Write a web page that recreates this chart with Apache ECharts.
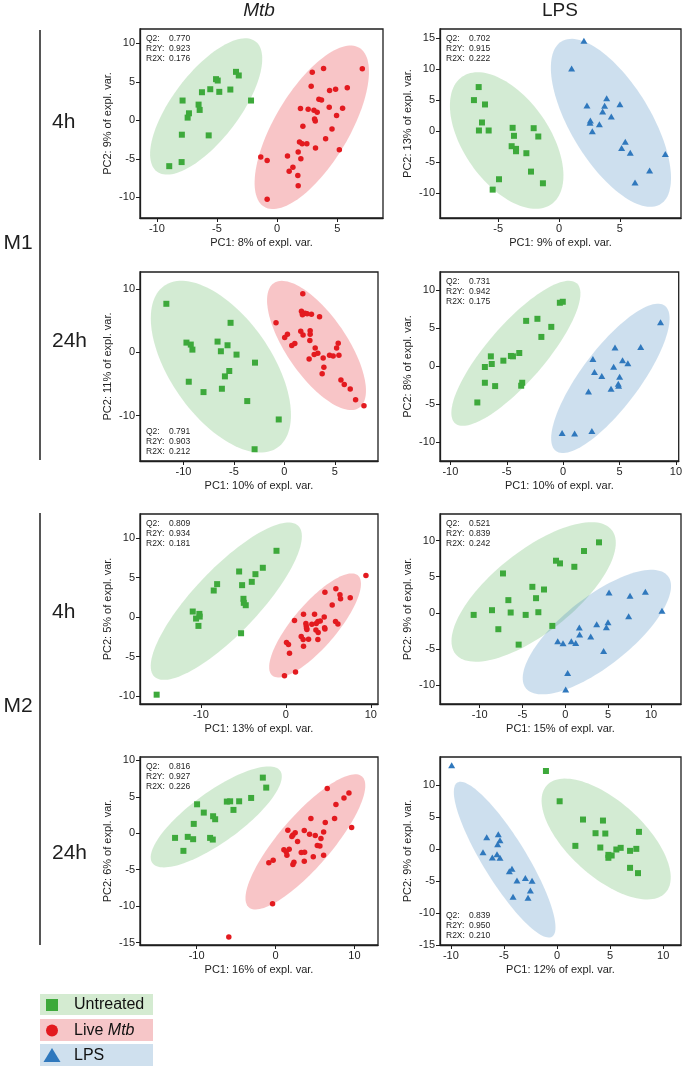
<!DOCTYPE html>
<html><head><meta charset="utf-8">
<script src="https://cdn.jsdelivr.net/npm/echarts@6/dist/echarts.min.js"></script>
<style>html,body{margin:0;padding:0;background:#fff}#c{width:685px;height:1067px}</style>
</head><body><div id="c"></div>
<script>
// ---------------- DATA ----------------
// Column / row headers
const columnTitles = ['Mtb', 'LPS'];
const rowTitles = ['4h', '24h', '4h', '24h'];
const blockTitles = ['M1', 'M2'];
const legendLabels = ['Untreated', 'Live Mtb', 'LPS'];

// M1 4h Mtb
const m1_4h_mtb_untreated = [[-8.97,-5.96],[-7.94,-5.43],[-7.92,-1.87],[-7.86,2.57],[-7.44,0.35],[-7.33,0.91],[-6.53,2.04],[-6.44,1.35],[-6.25,3.65],[-5.69,-1.96],[-5.56,4.04],[-5.08,5.35],[-4.94,5.17],[-4.81,3.70],[-3.89,4.00],[-3.42,6.30],[-3.19,5.83],[-2.17,2.57]];
const m1_4h_mtb_live = [[-1.36,-4.78],[-0.83,-5.22],[-0.83,-10.26],[0.86,-4.65],[1.00,-6.61],[1.31,-6.09],[1.75,-4.13],[1.72,-7.17],[1.75,-8.52],[1.86,-2.83],[1.97,-5.00],[2.08,-3.04],[1.94,1.52],[2.14,-0.78],[2.47,-3.04],[2.58,1.43],[2.83,4.43],[2.92,6.26],[3.06,1.30],[3.11,0.17],[3.17,-0.09],[3.19,-3.61],[3.33,1.04],[3.47,2.74],[3.69,2.65],[3.86,6.74],[4.03,-2.39],[4.33,1.70],[4.36,3.87],[4.56,-1.13],[4.86,4.04],[4.94,0.61],[5.17,-3.83],[5.44,1.57],[5.83,4.22],[7.08,6.70]];
const m1_4h_mtb_ellipse_untreated = [-5.90,1.80,4.10,8.46,0.41];
const m1_4h_mtb_ellipse_live = [2.88,-0.91,3.95,10.34,0.40];
const m1_4h_mtb_stats = ['0.770','0.923','0.176'];
const m1_4h_mtb_xticks = [-10,-5,0,5];
const m1_4h_mtb_yticks = [-10,-5,0,5,10];

// M1 4h LPS
const m1_4h_lps_untreated = [[-6.60,7.10],[-6.99,5.00],[-6.08,4.30],[-6.33,1.40],[-6.58,0.11],[-5.78,0.11],[-3.81,0.54],[-3.70,-0.75],[-2.08,0.48],[-1.70,-0.86],[-3.89,-2.42],[-3.53,-2.85],[-3.53,-3.23],[-2.68,-3.55],[-2.30,-6.51],[-1.32,-8.39],[-4.93,-7.74],[-5.45,-9.41]];
const m1_4h_lps_lps = [[2.05,14.57],[1.04,10.11],[3.92,5.32],[2.30,4.14],[3.75,4.09],[5.01,4.35],[3.59,3.17],[4.30,2.37],[2.58,1.72],[2.55,1.34],[3.32,1.13],[2.74,0.00],[5.45,-1.72],[5.15,-2.69],[5.86,-3.49],[8.74,-3.66],[7.45,-6.34],[6.25,-8.28]];
const m1_4h_lps_ellipse_untreated = [-4.30,-1.51,3.67,-10.26,0.55];
const m1_4h_lps_ellipse_lps = [4.27,1.34,4.06,-13.11,0.42];
const m1_4h_lps_stats = ['0.702','0.915','0.222'];
const m1_4h_lps_xticks = [-5,0,5];
const m1_4h_lps_yticks = [-10,-5,0,5,10,15];

// M1 24h Mtb
const m1_24h_mtb_untreated = [[-11.69,7.67],[-5.33,4.66],[-9.70,1.53],[-9.27,1.22],[-9.11,0.42],[-6.62,1.69],[-6.29,0.16],[-5.63,1.11],[-4.74,-0.37],[-2.91,-1.64],[-5.46,-2.96],[-5.89,-3.81],[-9.47,-4.66],[-6.19,-5.77],[-8.01,-6.30],[-3.68,-7.72],[-0.56,-10.63],[-2.95,-15.34]];
const m1_24h_mtb_live = [[1.82,9.26],[-0.83,4.66],[0.30,2.86],[0.03,2.33],[1.62,3.33],[1.85,2.75],[2.55,3.39],[2.55,2.86],[2.52,1.85],[1.69,6.51],[1.79,6.08],[2.05,6.19],[2.25,6.08],[1.79,5.93],[2.68,6.03],[3.48,5.61],[1.03,1.38],[0.73,1.06],[3.05,0.69],[2.45,-1.06],[2.95,-0.37],[3.31,-0.16],[3.84,-0.90],[3.91,-2.38],[3.74,-3.39],[4.47,-0.48],[4.83,-0.58],[5.17,0.69],[5.33,1.43],[5.40,-0.48],[5.60,-4.39],[5.93,-5.08],[6.52,-5.82],[7.05,-7.51],[7.88,-8.47]];
const m1_24h_mtb_ellipse_untreated = [-6.29,-2.28,5.61,-12.80,0.51];
const m1_24h_mtb_ellipse_live = [3.18,1.08,4.23,-9.86,0.40];
const m1_24h_mtb_stats = ['0.791','0.903','0.212'];
const m1_24h_mtb_xticks = [-10,-5,0,5];
const m1_24h_mtb_yticks = [-10,0,10];

// M1 24h LPS
const m1_24h_lps_untreated = [[-0.29,8.31],[-0.03,8.44],[-3.28,5.93],[-2.28,6.20],[-1.05,5.14],[-1.93,3.82],[-3.89,1.71],[-4.63,1.32],[-4.45,1.27],[-5.30,0.70],[-6.41,1.27],[-6.33,0.26],[-6.94,-0.13],[-6.94,-2.20],[-6.03,-2.64],[-3.63,-2.20],[-3.72,-2.59],[-7.61,-4.79]];
const m1_24h_lps_lps = [[8.64,5.76],[6.88,2.51],[4.60,2.42],[2.64,0.92],[5.27,0.75],[5.74,0.35],[4.48,-0.09],[2.78,-0.79],[3.43,-1.32],[5.01,-1.41],[4.89,-2.33],[4.92,-2.59],[4.25,-2.99],[2.25,-3.34],[-0.09,-8.79],[1.02,-8.88],[2.55,-8.53]];
const m1_24h_lps_ellipse_untreated = [-4.19,1.67,5.39,9.20,0.31];
const m1_24h_lps_ellipse_lps = [4.19,-1.63,4.83,9.54,0.32];
const m1_24h_lps_stats = ['0.731','0.942','0.175'];
const m1_24h_lps_xticks = [-10,-5,0,5,10];
const m1_24h_lps_yticks = [-10,-5,0,5,10];

// M2 4h Mtb
const m2_4h_mtb_untreated = [[-1.10,8.41],[-2.71,6.26],[-3.58,5.45],[-4.01,4.48],[-5.50,5.79],[-5.15,4.06],[-4.99,2.33],[-4.95,1.82],[-4.72,1.52],[-8.09,4.19],[-8.49,3.38],[-10.96,0.72],[-10.18,0.42],[-10.14,0.08],[-10.57,-0.17],[-10.29,-1.10],[-5.27,-2.03],[-15.21,-9.81]];
const m2_4h_mtb_live = [[9.43,5.29],[4.60,3.17],[5.89,3.59],[6.37,2.83],[6.44,2.33],[7.58,2.45],[5.46,1.56],[1.02,-0.42],[2.08,0.38],[3.38,0.38],[4.52,0.04],[5.85,-0.55],[6.13,-0.85],[4.05,-0.47],[3.77,-0.55],[3.06,-0.89],[3.58,-0.80],[2.36,-0.80],[2.40,-1.10],[2.44,-1.40],[2.48,-1.56],[3.54,-1.61],[3.81,-1.95],[4.56,-1.35],[4.60,-1.48],[1.81,-2.45],[2.04,-2.83],[2.67,-2.79],[3.77,-2.83],[2.08,-3.68],[0.08,-3.21],[0.31,-3.47],[0.43,-4.57],[1.14,-6.93],[-0.16,-7.40]];
const m2_4h_mtb_ellipse_untreated = [-7.01,2.03,8.46,9.56,0.31];
const m2_4h_mtb_ellipse_live = [3.44,-1.04,5.04,6.34,0.33];
const m2_4h_mtb_stats = ['0.809','0.934','0.181'];
const m2_4h_mtb_xticks = [-10,0,10];
const m2_4h_mtb_yticks = [-10,-5,0,5,10];

// M2 4h LPS
const m2_4h_lps_untreated = [[3.93,9.75],[2.18,8.55],[-1.09,7.21],[-0.62,6.84],[1.05,6.37],[-7.28,5.45],[-3.85,3.60],[-2.49,3.23],[-3.42,2.03],[-6.65,1.76],[-8.56,0.37],[-10.70,-0.28],[-6.38,0.05],[-4.63,-0.28],[-3.15,0.09],[-1.52,-1.80],[-7.82,-2.26],[-5.45,-4.39]];
const m2_4h_lps_lps = [[11.28,0.28],[9.34,2.91],[7.55,2.36],[5.10,2.82],[7.39,-0.46],[4.98,-1.29],[4.79,-1.99],[3.66,-1.57],[1.63,-2.03],[1.67,-3.00],[2.96,-3.28],[-0.89,-3.93],[-0.27,-4.20],[0.70,-3.93],[1.21,-4.16],[4.47,-5.27],[0.27,-8.31],[0.04,-10.58]];
const m2_4h_lps_ellipse_untreated = [-3.70,2.89,9.12,8.57,0.41];
const m2_4h_lps_ellipse_lps = [3.68,-2.66,8.29,7.76,0.38];
const m2_4h_lps_stats = ['0.521','0.839','0.242'];
const m2_4h_lps_xticks = [-10,-5,0,5,10];
const m2_4h_lps_yticks = [-10,-5,0,5,10];

// M2 24h Mtb
const m2_24h_mtb_untreated = [[-1.61,7.63],[-1.18,6.26],[-3.09,4.84],[-4.61,4.38],[-6.17,4.34],[-5.75,4.38],[-5.33,3.20],[-9.94,3.97],[-9.09,2.83],[-7.91,2.33],[-7.65,1.92],[-10.36,1.28],[-11.12,-0.50],[-12.73,-0.64],[-10.44,-0.82],[-8.29,-0.64],[-7.95,-0.87],[-11.67,-2.42]];
const m2_24h_mtb_live = [[6.55,6.12],[9.30,5.53],[8.67,4.84],[7.65,3.93],[4.48,2.01],[7.48,2.01],[6.30,1.46],[9.64,0.78],[6.09,0.18],[3.64,0.37],[4.31,-0.14],[5.03,-0.32],[5.75,-0.73],[1.56,0.41],[2.49,0.05],[2.20,-0.23],[2.07,-0.46],[2.79,-1.14],[5.29,-1.69],[5.62,-1.74],[1.73,-2.19],[1.06,-2.28],[1.35,-2.56],[1.44,-3.01],[3.26,-2.65],[3.68,-2.60],[6.09,-3.01],[4.78,-3.24],[-0.30,-3.70],[2.33,-3.97],[3.64,-3.84],[2.20,-4.29],[-0.85,-4.06],[-0.38,-9.68],[-5.92,-14.25]];
const m2_24h_mtb_ellipse_untreated = [-7.51,2.24,8.09,6.34,0.32];
const m2_24h_mtb_ellipse_live = [3.78,-1.19,7.17,8.98,0.30];
const m2_24h_mtb_stats = ['0.816','0.927','0.226'];
const m2_24h_mtb_xticks = [-10,0,10];
const m2_24h_mtb_yticks = [-15,-10,-5,0,5,10];

// M2 24h LPS
const m2_24h_lps_untreated = [[-1.04,12.24],[0.25,7.50],[2.45,4.64],[4.33,4.48],[3.63,2.50],[4.55,2.45],[7.72,2.71],[1.73,0.52],[4.08,0.26],[5.59,-0.05],[6.00,0.21],[6.88,-0.26],[7.47,0.05],[4.84,-0.89],[5.15,-0.99],[4.84,-1.35],[6.88,-2.92],[7.63,-3.75]];
const m2_24h_lps_lps = [[-9.92,13.13],[-6.62,1.88],[-5.53,2.34],[-5.59,0.78],[-5.37,1.41],[-6.97,-0.47],[-6.09,-1.30],[-5.37,-1.35],[-5.65,-0.78],[-4.24,-3.07],[-4.49,-3.44],[-3.77,-4.90],[-2.98,-4.53],[-2.35,-4.95],[-2.51,-6.46],[-4.14,-7.45],[-2.73,-7.60]];
const m2_24h_lps_ellipse_untreated = [4.63,1.59,5.60,-8.39,0.47];
const m2_24h_lps_ellipse_lps = [-4.93,-1.64,4.46,-12.06,0.24];
const m2_24h_lps_stats = ['0.839','0.950','0.210'];
const m2_24h_lps_xticks = [-10,-5,0,5,10];
const m2_24h_lps_yticks = [-15,-10,-5,0,5,10];

const xNames = ['PC1: 8% of expl. var.','PC1: 9% of expl. var.','PC1: 10% of expl. var.','PC1: 10% of expl. var.','PC1: 13% of expl. var.','PC1: 15% of expl. var.','PC1: 16% of expl. var.','PC1: 12% of expl. var.'];
const yNames = ['PC2: 9% of expl. var.','PC2: 13% of expl. var.','PC2: 11% of expl. var.','PC2: 8% of expl. var.','PC2: 5% of expl. var.','PC2: 9% of expl. var.','PC2: 6% of expl. var.','PC2: 9% of expl. var.'];
const statNames = ['Q2:','R2Y:','R2X:'];

// ---------------- LAYOUT / STYLE ----------------
const FONT = 'Liberation Sans, Arial, sans-serif';
const INK = '#1e1e1e';
const STYLE = {
  untreated: {color:'#3da93b', fill:'rgba(70,172,70,0.24)', symbol:'rect', size:6},
  live:      {color:'#e31a1f', fill:'rgba(232,62,68,0.30)', symbol:'circle', size:5.5},
  lps:       {color:'#2f78bd', fill:'rgba(56,126,186,0.25)', symbol:'triangle', size:[7,6]}
};
const panels = [
  {box:[140,29,243,189], xr:[-11.4,8.8], yr:[-12.7,11.87], xt:m1_4h_mtb_xticks, yt:m1_4h_mtb_yticks, stats:m1_4h_mtb_stats, statPos:'top',
   groups:[['untreated',m1_4h_mtb_untreated,m1_4h_mtb_ellipse_untreated],['live',m1_4h_mtb_live,m1_4h_mtb_ellipse_live]]},
  {box:[440,29,241,189], xr:[-9.78,10.03], yr:[-13.98,16.45], xt:m1_4h_lps_xticks, yt:m1_4h_lps_yticks, stats:m1_4h_lps_stats, statPos:'top',
   groups:[['untreated',m1_4h_lps_untreated,m1_4h_lps_ellipse_untreated],['lps',m1_4h_lps_lps,m1_4h_lps_ellipse_lps]]},
  {box:[140,272,238,189], xr:[-14.3,9.27], yr:[-17.2,12.7], xt:m1_24h_mtb_xticks, yt:m1_24h_mtb_yticks, stats:m1_24h_mtb_stats, statPos:'bottom',
   groups:[['untreated',m1_24h_mtb_untreated,m1_24h_mtb_ellipse_untreated],['live',m1_24h_mtb_live,m1_24h_mtb_ellipse_live]]},
  {box:[440,272,241,189], xr:[-10.92,10.25], yr:[-12.48,12.35], xt:m1_24h_lps_xticks, yt:m1_24h_lps_yticks, stats:m1_24h_lps_stats, statPos:'top',
   groups:[['untreated',m1_24h_lps_untreated,m1_24h_lps_ellipse_untreated],['lps',m1_24h_lps_lps,m1_24h_lps_ellipse_lps]]},
  {box:[140,514,238,190], xr:[-17.17,10.85], yr:[-10.99,13.07], xt:m2_4h_mtb_xticks, yt:m2_4h_mtb_yticks, stats:m2_4h_mtb_stats, statPos:'top',
   groups:[['untreated',m2_4h_mtb_untreated,m2_4h_mtb_ellipse_untreated],['live',m2_4h_mtb_live,m2_4h_mtb_ellipse_live]]},
  {box:[440,514,241,190], xr:[-14.63,13.5], yr:[-12.6,13.67], xt:m2_4h_lps_xticks, yt:m2_4h_lps_yticks, stats:m2_4h_lps_stats, statPos:'top',
   groups:[['untreated',m2_4h_lps_untreated,m2_4h_lps_ellipse_untreated],['lps',m2_4h_lps_lps,m2_4h_lps_ellipse_lps]]},
  {box:[140,757,238,188], xr:[-17.17,12.98], yr:[-15.34,10.46], xt:m2_24h_mtb_xticks, yt:m2_24h_mtb_yticks, stats:m2_24h_mtb_stats, statPos:'top',
   groups:[['untreated',m2_24h_mtb_untreated,m2_24h_mtb_ellipse_untreated],['live',m2_24h_mtb_live,m2_24h_mtb_ellipse_live]]},
  {box:[440,757,241,188], xr:[-11.02,11.68], yr:[-15.0,14.43], xt:m2_24h_lps_xticks, yt:m2_24h_lps_yticks, stats:m2_24h_lps_stats, statPos:'bottom',
   groups:[['lps',m2_24h_lps_lps,m2_24h_lps_ellipse_lps],['untreated',m2_24h_lps_untreated,m2_24h_lps_ellipse_untreated]]}
];

// ---------------- BUILD ----------------
const grids = [], xAxes = [], yAxes = [], series = [], graphics = [];

function makeEllipseRenderer(fill){
  return function(params, api){
    const cx = api.value(0), cy = api.value(1), ux = api.value(2), uy = api.value(3), r = api.value(4);
    const c = api.coord([cx, cy]);
    const t = api.coord([cx + ux, cy + uy]);
    const ax = t[0] - c[0], ay = t[1] - c[1];
    const bx = -ay * r, by = ax * r;
    const pts = [];
    const N = 120;
    for (let k = 0; k < N; k++) {
      const th = k / N * Math.PI * 2;
      pts.push([c[0] + ax * Math.cos(th) + bx * Math.sin(th), c[1] + ay * Math.cos(th) + by * Math.sin(th)]);
    }
    return {type:'polygon', shape:{points:pts}, style:{fill:fill, stroke:null}};
  };
}

panels.forEach((p, i) => {
  const [L, T, W, H] = p.box;
  grids.push({left:L, top:T, width:W, height:H, show:true, borderColor:INK, borderWidth:1.3, backgroundColor:'transparent'});
  xAxes.push({gridIndex:i, type:'value', min:p.xr[0], max:p.xr[1],
    name:xNames[i], nameLocation:'middle', nameGap:19,
    nameTextStyle:{fontSize:11, color:INK, fontFamily:FONT},
    axisLine:{show:true, onZero:false, lineStyle:{color:INK, width:1.3}},
    axisTick:{show:true, length:4, inside:false, customValues:p.xt, lineStyle:{color:INK, width:1}},
    axisLabel:{fontSize:11, color:INK, fontFamily:FONT, margin:5, customValues:p.xt},
    splitLine:{show:false}});
  yAxes.push({gridIndex:i, type:'value', min:p.yr[0], max:p.yr[1],
    name:yNames[i], nameLocation:'middle', nameGap:27, nameRotate:90,
    nameTextStyle:{fontSize:11, color:INK, fontFamily:FONT},
    axisLine:{show:true, onZero:false, lineStyle:{color:INK, width:1.3}},
    axisTick:{show:true, length:4, inside:false, customValues:p.yt, lineStyle:{color:INK, width:1}},
    axisLabel:{fontSize:11, color:INK, fontFamily:FONT, margin:5, customValues:p.yt},
    splitLine:{show:false}});
  p.groups.forEach(([kind, pts, ell]) => {
    const st = STYLE[kind];
    series.push({type:'custom', xAxisIndex:i, yAxisIndex:i, data:[ell], renderItem:makeEllipseRenderer(st.fill), z:1, silent:true, clip:false});
  });
  p.groups.forEach(([kind, pts, ell]) => {
    const st = STYLE[kind];
    series.push({type:'scatter', xAxisIndex:i, yAxisIndex:i, data:pts, symbol:st.symbol, symbolSize:st.size,
      itemStyle:{color:st.color, opacity:1}, z:3, silent:true});
  });
  // stats text
  const sx = L + 6, vx = L + 29;
  const sy0 = p.statPos === 'top' ? T + 9.5 : T + H - 29.5;
  for (let k = 0; k < 3; k++) {
    graphics.push({type:'text', x:sx, y:sy0 + k*10, z:10, style:{text:statNames[k], fontSize:8.5, fontFamily:FONT, fill:INK, align:'left', verticalAlign:'middle'}});
    graphics.push({type:'text', x:vx, y:sy0 + k*10, z:10, style:{text:p.stats[k], fontSize:8.5, fontFamily:FONT, fill:INK, align:'left', verticalAlign:'middle'}});
  }
});

// column headers
graphics.push({type:'text', x:259, y:11, style:{text:columnTitles[0], fontSize:19, fontStyle:'italic', fontFamily:FONT, fill:INK, align:'center', verticalAlign:'middle'}});
graphics.push({type:'text', x:560, y:11, style:{text:columnTitles[1], fontSize:19, fontFamily:FONT, fill:INK, align:'center', verticalAlign:'middle'}});
// row labels
[122, 341, 612, 853].forEach((y, k) => {
  graphics.push({type:'text', x:52, y:y, style:{text:rowTitles[k], fontSize:21, fontFamily:FONT, fill:INK, align:'left', verticalAlign:'middle'}});
});
[243, 706].forEach((y, k) => {
  graphics.push({type:'text', x:18, y:y, style:{text:blockTitles[k], fontSize:21, fontFamily:FONT, fill:INK, align:'center', verticalAlign:'middle'}});
});
// bracket lines
graphics.push({type:'line', shape:{x1:40, y1:30, x2:40, y2:460}, style:{stroke:INK, lineWidth:1.5}});
graphics.push({type:'line', shape:{x1:40, y1:513, x2:40, y2:945}, style:{stroke:INK, lineWidth:1.5}});

// legend
const legBoxes = [[994,21,'#d4ebd1'],[1019,22,'#f6c6c8'],[1044,22,'#cfe0ee']];
legBoxes.forEach(([y,h,c]) => graphics.push({type:'rect', shape:{x:40, y:y, width:113, height:h}, style:{fill:c}}));
graphics.push({type:'rect', shape:{x:46, y:999, width:12, height:12}, style:{fill:STYLE.untreated.color}});
graphics.push({type:'circle', shape:{cx:52, cy:1030.5, r:6}, style:{fill:STYLE.live.color}});
graphics.push({type:'polygon', shape:{points:[[52,1048],[60.5,1062],[43.5,1062]]}, style:{fill:STYLE.lps.color}});
graphics.push({type:'text', x:74, y:1005, style:{text:legendLabels[0], fontSize:16, fontFamily:FONT, fill:'#111', align:'left', verticalAlign:'middle'}});
graphics.push({type:'text', x:74, y:1031, style:{text:'{n|Live }{i|Mtb}', rich:{n:{fontSize:16, fontFamily:FONT, fill:'#111'}, i:{fontSize:16, fontFamily:FONT, fontStyle:'italic', fill:'#111'}}, fontSize:16, fontFamily:FONT, fill:'#111', align:'left', verticalAlign:'middle'}});
graphics.push({type:'text', x:74, y:1056, style:{text:legendLabels[2], fontSize:16, fontFamily:FONT, fill:'#111', align:'left', verticalAlign:'middle'}});

const chart = echarts.init(document.getElementById('c'), null, {renderer:'canvas'});
chart.setOption({
  animation:false,
  backgroundColor:'#ffffff',
  grid:grids, xAxis:xAxes, yAxis:yAxes, series:series, graphic:graphics
});
</script></body></html>
